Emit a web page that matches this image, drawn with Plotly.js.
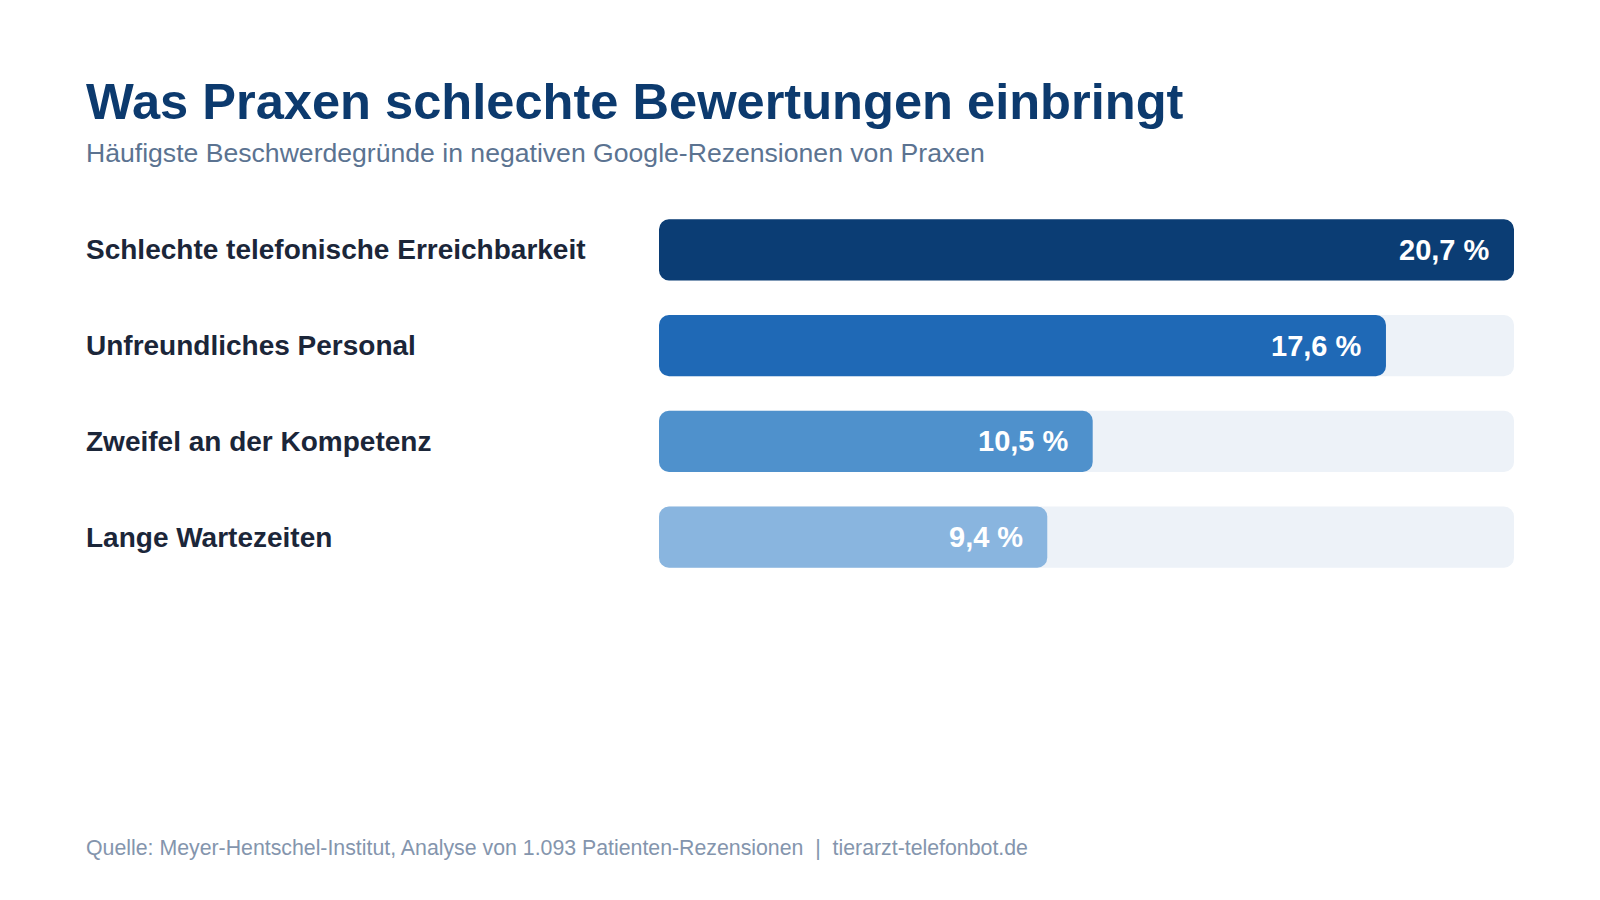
<!DOCTYPE html>
<html>
<head>
<meta charset="utf-8">
<script src="https://cdn.plot.ly/plotly-3.0.1.min.js"></script>
<style>
  html, body { margin: 0; padding: 0; background: #ffffff; }
  #chart { width: 1600px; height: 900px; }
</style>
</head>
<body>
<div id="chart"></div>
<script>
const categories = [
  "Schlechte telefonische Erreichbarkeit",
  "Unfreundliches Personal",
  "Zweifel an der Kompetenz",
  "Lange Wartezeiten"
];
const values = [20.7, 17.6, 10.5, 9.4];
const valueLabels = ["20,7 %", "17,6 %", "10,5 %", "9,4 %"];
const barColors = ["#0b3d74", "#1f69b6", "#4f91cc", "#89b5df"];

const titleText = "Was Praxen schlechte Bewertungen einbringt";
const subtitleText = "Häufigste Beschwerdegründe in negativen Google-Rezensionen von Praxen";
const footerText = "Quelle: Meyer-Hentschel-Institut, Analyse von 1.093 Patienten-Rezensionen  |  tierarzt-telefonbot.de";

const FONT = "Liberation Sans, Arial, Helvetica, sans-serif";
const trackColor = "#edf2f8";
const radius = 10;
const barWidth = 0.64;

const maxVal = Math.max(...values);

const traces = [
  { type: "bar", orientation: "h", y: categories, x: categories.map(() => maxVal), base: categories.map(() => 0),
    marker: { color: trackColor, cornerradius: radius, line: { width: 0 } }, width: barWidth, hoverinfo: "skip" },
  { type: "bar", orientation: "h", y: categories, x: values, base: values.map(() => 0),
    marker: { color: barColors, cornerradius: radius, line: { width: 0 } }, width: barWidth, hoverinfo: "skip" }
];

const LX = -0.6725;
const annotations = [];
categories.forEach((c, i) => {
  annotations.push({
    xref: "paper", yref: "y", x: LX, y: c, xanchor: "left", yanchor: "middle",
    text: c, showarrow: false, font: { family: FONT, size: 28, color: "#1b2639", weight: 700 }
  });
  annotations.push({
    xref: "x", yref: "y", x: values[i], y: c, xanchor: "right", yanchor: "middle", xshift: -22,
    text: valueLabels[i], showarrow: false, font: { family: FONT, size: 29, color: "#ffffff", weight: 700 }
  });
});
annotations.push({
  xref: "paper", yref: "paper", x: LX, y: 1.262, xanchor: "left", yanchor: "middle",
  text: "<b>" + titleText + "</b>", showarrow: false, font: { family: FONT, size: 50.6, color: "#0c3a6e" }
});
annotations.push({
  xref: "paper", yref: "paper", x: LX, y: 1.129, xanchor: "left", yanchor: "middle",
  text: subtitleText, showarrow: false, font: { family: FONT, size: 26.6, color: "#5b7391" }
});
annotations.push({
  xref: "paper", yref: "paper", x: LX, y: -0.686, xanchor: "left", yanchor: "middle",
  text: footerText, showarrow: false, font: { family: FONT, size: 21.3, color: "#8495ad" }
});

const layout = {
  width: 1600, height: 900,
  margin: { l: 659, r: 86, t: 201.5, b: 315 },
  paper_bgcolor: "#ffffff", plot_bgcolor: "#ffffff",
  barmode: "overlay",
  showlegend: false,
  xaxis: { range: [0, maxVal], visible: false, fixedrange: true },
  yaxis: { type: "category", autorange: "reversed", visible: false, range: [3.5, -0.5], fixedrange: true },
  annotations: annotations,
  font: { family: FONT }
};

Plotly.newPlot("chart", traces, layout, { staticPlot: true, displayModeBar: false });
</script>
</body>
</html>
